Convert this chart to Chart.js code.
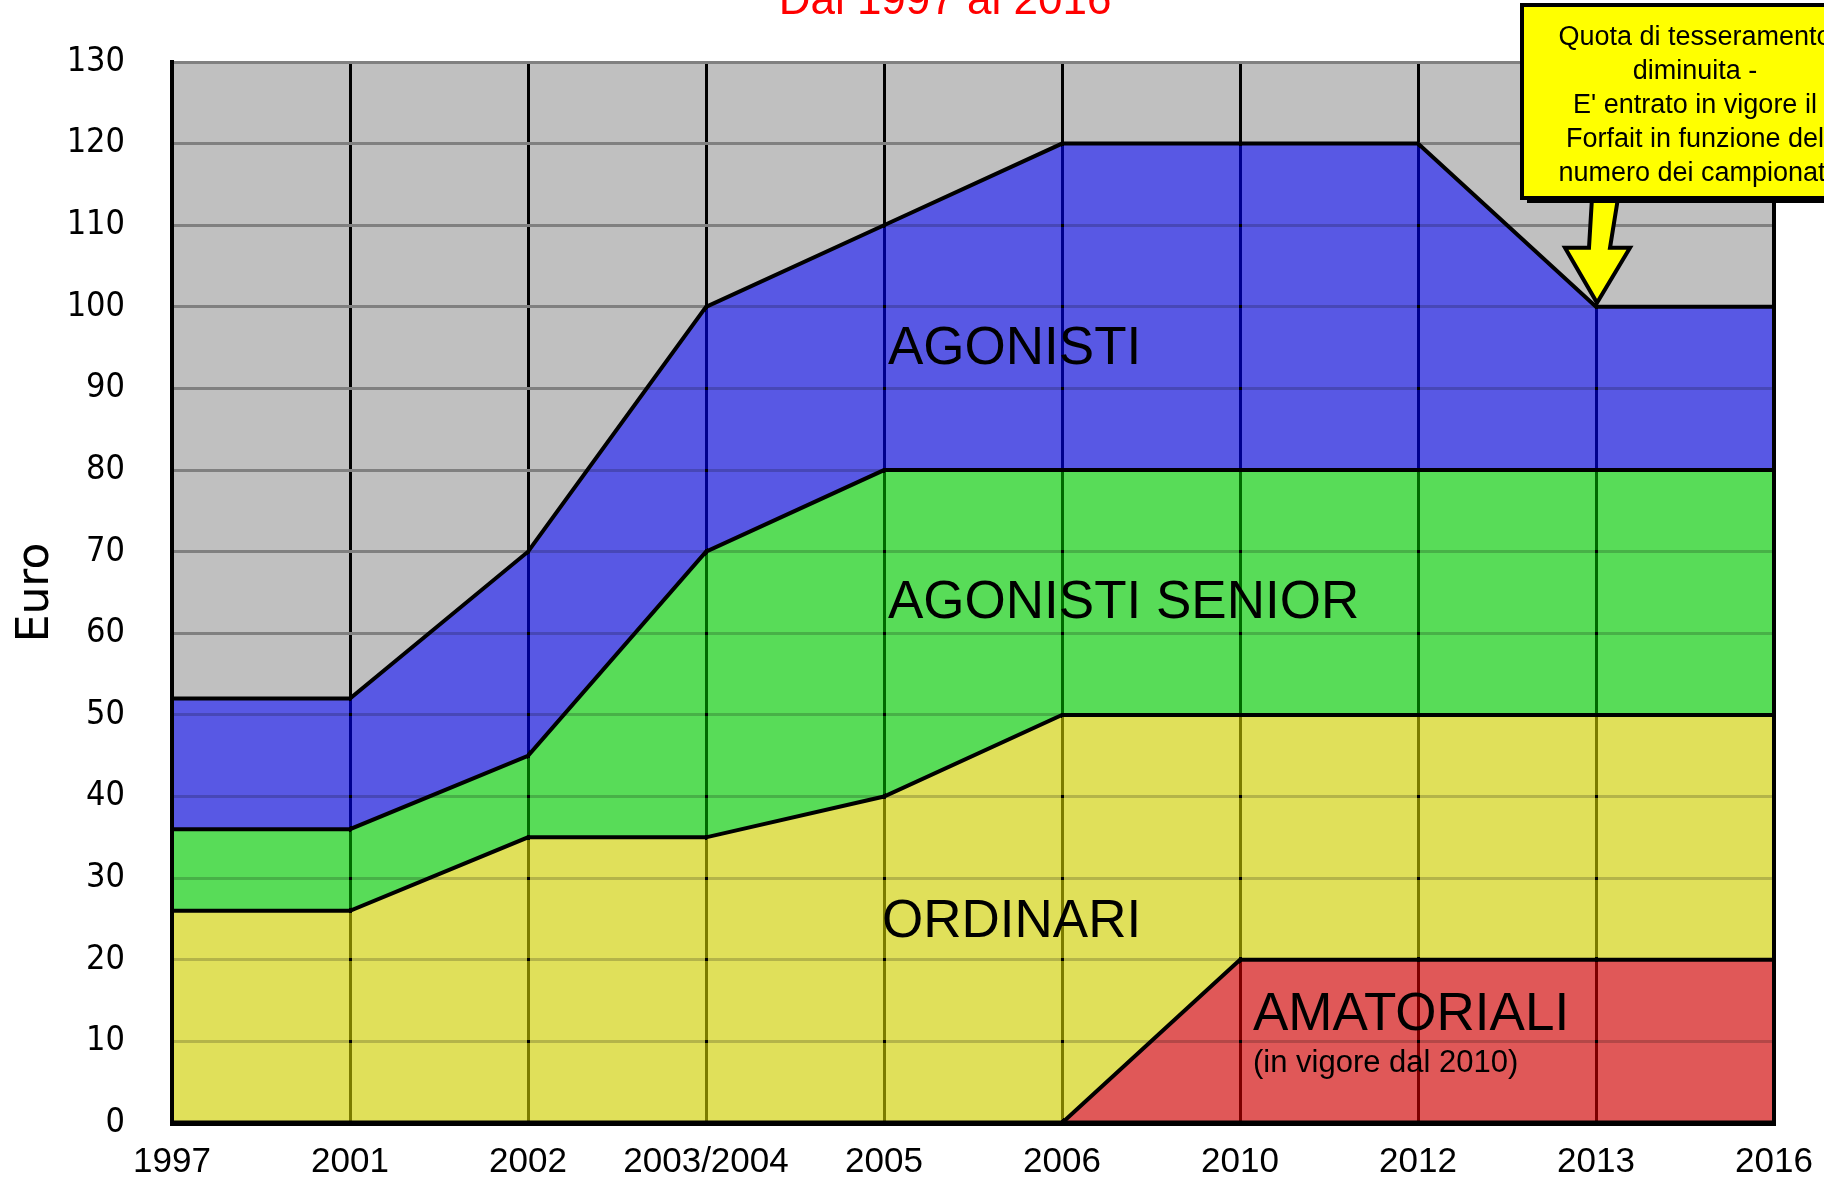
<!DOCTYPE html>
<html><head><meta charset="utf-8">
<script src="https://cdn.jsdelivr.net/npm/chart.js@4.4.0/dist/chart.umd.min.js"></script>
<style>html,body{margin:0;padding:0;background:#fff;overflow:hidden}#wrap{width:1824px;height:1182px;position:relative}canvas{display:block}</style>
</head><body><div id="wrap"><canvas id="c" width="1824" height="1182" style="width:1824px;height:1182px"></canvas></div>
<script>
// ---- data ----
const categories = ['1997','2001','2002','2003/2004','2005','2006','2010','2012','2013','2016'];
const ordinari       = [26, 26, 35, 35, 40, 50, 50, 50, 50, 50];
const agonistiSenior = [36, 36, 45, 70, 80, 80, 80, 80, 80, 80];
const agonisti       = [52, 52, 70, 100, 110, 120, 120, 120, 100, 100];
const amatoriali     = [null, null, null, null, null, 0, 20, 20, 20, 20];
const yMin = 0, yMax = 130, yStep = 10;
const titleText = 'Dal 1997 al 2016';
const yTitle = 'Euro';
const noteLines = ['Quota di tesseramento', 'diminuita -', "E' entrato in vigore il", 'Forfait in funzione del', 'numero dei campionati'];
const noteCategory = '2013', noteValue = 100;
// area labels: [text, category, value, size, x nudge]
const areaLabels = [
  ['AGONISTI', '2005', 93.0, 53, 4],
  ['AGONISTI SENIOR', '2005', 61.9, 53, 4],
  ['ORDINARI', '2005', 22.8, 53, -2],
  ['AMATORIALI', '2010', 11.4, 53, 13],
  ['(in vigore dal 2010)', '2010', 6.3, 31, 13]
];

const SANS = '"Liberation Sans", Arial, sans-serif';
const align = (p, w) => Math.round(p - w / 2) + w / 2;

const deco = {
  id: 'deco',
  beforeDraw(chart) {
    const {ctx, chartArea: a} = chart;
    ctx.save();
    ctx.fillStyle = '#C0C0C0';
    ctx.fillRect(a.left, a.top, a.right - a.left, a.bottom - a.top);
    ctx.restore();
  },
  afterDatasetsDraw(chart) {
    const {ctx, chartArea: a, scales: {x, y}} = chart;
    const meta = chart.getDatasetMeta(3);
    ctx.save();
    ctx.beginPath();
    ctx.moveTo(a.left, a.bottom);
    meta.data.forEach(p => ctx.lineTo(p.x, p.y));
    ctx.lineTo(a.right, a.bottom);
    ctx.closePath();
    ctx.clip();
    ctx.lineWidth = 3;
    ctx.globalCompositeOperation = 'multiply';
    ctx.strokeStyle = 'rgb(205,205,205)';
    for (let v = yMin + yStep; v < yMax; v += yStep) {
      const py = align(y.getPixelForValue(v), 3);
      ctx.beginPath(); ctx.moveTo(a.left, py); ctx.lineTo(a.right, py); ctx.stroke();
    }
    ctx.globalCompositeOperation = 'color-burn';
    ctx.strokeStyle = 'rgb(60,60,60)';
    categories.forEach((c, i) => {
      const px = align(x.getPixelForValue(i), 3);
      ctx.beginPath(); ctx.moveTo(px, a.top); ctx.lineTo(px, a.bottom); ctx.stroke();
    });
    ctx.restore();

    // frame
    ctx.save();
    ctx.strokeStyle = '#000';
    ctx.lineWidth = 4;
    ctx.beginPath(); ctx.moveTo(a.left, a.top); ctx.lineTo(a.left, a.bottom + 2); ctx.stroke();
    ctx.beginPath(); ctx.moveTo(a.right, a.top); ctx.lineTo(a.right, a.bottom + 2); ctx.stroke();
    ctx.lineWidth = 5;
    ctx.beginPath(); ctx.moveTo(a.left - 2, a.bottom); ctx.lineTo(a.right + 2, a.bottom); ctx.stroke();
    ctx.restore();

    // area labels
    ctx.save();
    ctx.fillStyle = '#000';
    ctx.textAlign = 'left';
    ctx.textBaseline = 'alphabetic';
    areaLabels.forEach(([t, c, v, s, dx]) => {
      ctx.font = s + 'px ' + SANS;
      ctx.fillText(t, x.getPixelForValue(categories.indexOf(c)) + dx, y.getPixelForValue(v));
    });
    ctx.restore();
  },
  afterDraw(chart) {
    const {ctx, scales: {x, y}} = chart;
    const tx = x.getPixelForValue(categories.indexOf(noteCategory));
    const ty = y.getPixelForValue(noteValue);
    const boxL = tx - 74, boxT = 5, boxB = 198, boxR = tx + 276;
    ctx.save();
    // arrow
    ctx.beginPath();
    ctx.moveTo(tx - 4, boxB);
    ctx.lineTo(tx + 22, boxB);
    ctx.lineTo(tx + 14, ty - 59);
    ctx.lineTo(tx + 34, ty - 59);
    ctx.lineTo(tx + 1, ty - 4);
    ctx.lineTo(tx - 31, ty - 59);
    ctx.lineTo(tx - 7, ty - 59);
    ctx.closePath();
    ctx.fillStyle = '#FFFF00';
    ctx.fill();
    ctx.lineWidth = 4;
    ctx.strokeStyle = '#000';
    ctx.lineJoin = 'miter';
    ctx.stroke();
    // box shadow + box
    ctx.fillStyle = '#000';
    ctx.fillRect(boxL + 5, boxT + 5, boxR - boxL, boxB - boxT);
    ctx.fillStyle = '#FFFF00';
    ctx.fillRect(boxL, boxT, boxR - boxL, boxB - boxT);
    ctx.lineWidth = 4;
    ctx.strokeRect(boxL, boxT, boxR - boxL, boxB - boxT);
    ctx.fillStyle = '#000';
    ctx.font = '27px ' + SANS;
    ctx.textAlign = 'center';
    ctx.textBaseline = 'alphabetic';
    const cx = (boxL + boxR) / 2 - 2;
    noteLines.forEach((l, i) => ctx.fillText(l, cx, 45 + i * 34));
    // title (cut off at top)
    ctx.fillStyle = '#FF0000';
    ctx.font = '44px ' + SANS;
    ctx.fillText(titleText, 945, 14);
    ctx.restore();
  }
};

new Chart(document.getElementById('c'), {
  type: 'line',
  data: {
    labels: categories,
    datasets: [
      {label: 'AMATORIALI', data: amatoriali, backgroundColor: '#E05858', fill: 'origin'},
      {label: 'ORDINARI', data: ordinari, backgroundColor: '#E0E05A', fill: 'origin'},
      {label: 'AGONISTI SENIOR', data: agonistiSenior, backgroundColor: '#58DC58', fill: '-1'},
      {label: 'AGONISTI', data: agonisti, backgroundColor: '#5858E4', fill: '-1'}
    ].map(d => Object.assign({borderColor: '#000', borderWidth: 4, pointRadius: 0, tension: 0, spanGaps: false}, d))
  },
  options: {
    responsive: false,
    animation: false,
    devicePixelRatio: 1,
    layout: {padding: {top: 62, right: 50, left: 0, bottom: 0}},
    plugins: {legend: {display: false}, tooltip: {enabled: false}, filler: {drawTime: 'beforeDatasetsDraw'}},
    scales: {
      x: {
        type: 'category', offset: false,
        grid: {color: '#000', lineWidth: 3, drawTicks: false, offset: false},
        border: {color: '#000', width: 5},
        ticks: {font: {family: SANS, size: 35}, color: '#000', padding: 18, maxRotation: 0, autoSkip: false},
        afterFit(s) { s.height = 59; s.paddingLeft = 0; s.paddingRight = 0; }
      },
      y: {
        min: yMin, max: yMax,
        ticks: {stepSize: yStep, font: {family: '"DejaVu Sans Condensed", "DejaVu Sans", sans-serif', size: 34}, color: '#000', padding: 47},
        grid: {color: '#808080', lineWidth: 3, drawTicks: false},
        border: {color: '#000', width: 4},
        title: {display: true, text: yTitle, font: {family: '"DejaVu Sans", sans-serif', size: 44}, color: '#000', padding: {top: 10, bottom: 0}},
        afterFit(s) { s.width = 172; s.paddingTop = 0; s.paddingBottom = 0; }
      }
    }
  },
  plugins: [deco]
});
</script></body></html>
